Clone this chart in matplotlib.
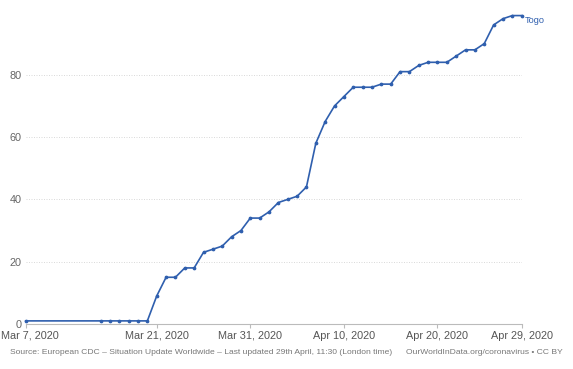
import matplotlib
matplotlib.use("Agg")
import matplotlib.pyplot as plt
import matplotlib.transforms as mtransforms
import numpy as np

plt.rcParams['font.family'] = ['Liberation Sans', 'DejaVu Sans']

# confirmed cases, Togo
dates = np.array(
    ['2020-03-07']
    + ['2020-03-%02d' % d for d in range(15, 32)]
    + ['2020-04-%02d' % d for d in range(1, 30)],
    dtype='datetime64[D]')
cases = [1,
         1, 1, 1, 1, 1, 1,
         9, 15, 15, 18, 18, 23, 24, 25, 28, 30, 34,
         34, 36, 39, 40, 41, 44, 58, 65, 70, 73,
         76, 76, 76, 77, 77, 81, 81, 83, 84, 84,
         84, 86, 88, 88, 90, 96, 98, 99, 99]
country = "Togo"
tick_dates = np.array(['2020-03-07', '2020-03-21', '2020-03-31', '2020-04-10',
                       '2020-04-20', '2020-04-29'], dtype='datetime64[D]')
tick_labels = ["Mar 7, 2020", "Mar 21, 2020", "Mar 31, 2020", "Apr 10, 2020",
               "Apr 20, 2020", "Apr 29, 2020"]
y_ticks = [0, 20, 40, 60, 80]

W, H = 573, 369
fig = plt.figure(figsize=(W / 100, H / 100), dpi=100)
ax = fig.add_axes([25.7 / W, (H - 324) / H, (521.7 - 25.7) / W, 324 / H])

x = dates.astype('datetime64[s]').astype(object)
line_color = '#2f5fae'
ax.plot(x, cases, color=line_color, lw=1.2, marker='o', ms=1.7, clip_on=False)

ax.set_xlim(x[0], x[-1])
ax.set_ylim(0.3, 104)

ax.set_xticks([d.astype('datetime64[s]').astype(object) for d in tick_dates])
ax.set_xticklabels(tick_labels)
ax.set_yticks(y_ticks)
ax.set_yticklabels([str(v) for v in y_ticks])

for s in ['top', 'right', 'left']:
    ax.spines[s].set_visible(False)
ax.spines['bottom'].set_color('#bbbbbb')
ax.spines['bottom'].set_linewidth(0.8)

ax.tick_params(axis='x', colors='#bbbbbb', labelcolor='#555555', length=3,
               width=0.8, pad=2, labelsize=7.8)
ax.tick_params(axis='y', length=0, pad=3, labelcolor='#666666', labelsize=7.8)
ax.grid(axis='y', color='#d4d4d4', linestyle=(0, (1.2, 1.8)), lw=0.6)
ax.set_axisbelow(True)

# keep first tick label inside the figure
first = ax.get_xticklabels()[0]
first.set_transform(first.get_transform() +
                    mtransforms.ScaledTranslation(4 / 100, 0, fig.dpi_scale_trans))

label = ax.text(x[-1], cases[-1], country, color=line_color,
                fontsize=6.6, va='center', ha='left', clip_on=False)
label.set_transform(ax.transData +
                    mtransforms.ScaledTranslation(3.5 / 100, -5 / 100, fig.dpi_scale_trans))

fig.text(10 / W, 1 - 353 / H,
         "Source: European CDC – Situation Update Worldwide – Last updated 29th April, 11:30 (London time)",
         fontsize=6.1, color='#777777', va='center', ha='left')
fig.text(563 / W, 1 - 353 / H, "OurWorldInData.org/coronavirus • CC BY",
         fontsize=6.1, color='#777777', va='center', ha='right')

fig.savefig("out.png", dpi=100)
